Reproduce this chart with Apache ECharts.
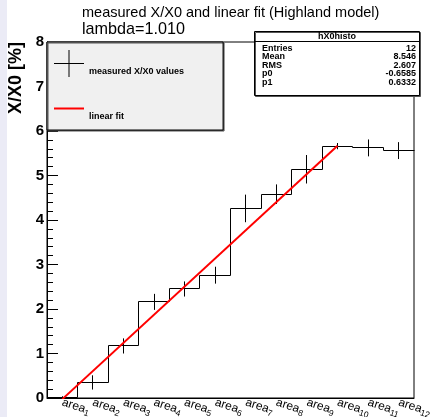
<!DOCTYPE html>
<html>
<head>
<meta charset="utf-8">
<script src="https://cdn.jsdelivr.net/npm/echarts@6/dist/echarts.min.js"></script>
<style>
  html, body { margin: 0; padding: 0; background: #fff; }
  #chart { width: 434px; height: 417px; }
</style>
</head>
<body>
<div id="chart"></div>
<script>
// bins of the histogram
const areaNames = ['area1', 'area2', 'area3', 'area4', 'area5', 'area6',
                   'area7', 'area8', 'area9', 'area10', 'area11', 'area12'];
const x0Values = [0.02, 0.35, 1.17, 2.16, 2.45, 2.76, 4.26, 4.58, 5.14, 5.66, 5.62, 5.56];
const x0Errors = [0.02, 0.16, 0.17, 0.18, 0.17, 0.19, 0.31, 0.22, 0.32, 0.07, 0.19, 0.19];

// fit line end points (area1 .. area10)
const fitAreas = ['area1', 'area10'];
const fitValues = [-0.025, 5.67];

// stats box
const statNames = ['Entries', 'Mean', 'RMS', 'p0', 'p1'];
const statValues = ['12', '8.546', '2.607', '-0.6585', '0.6332'];

const chart = echarts.init(document.getElementById('chart'));

const black = '#000';
const snap = (v) => Math.round(v - 0.5) + 0.5;

function renderHisto(params, api) {
  const i = params.dataIndex;
  const v = api.value(1);
  const e = api.value(2);
  const c = api.coord([i, v]);
  const w = api.size([1, 0])[0];
  const xl = snap(c[0] - w / 2), xr = snap(c[0] + w / 2), xc = snap(c[0]);
  const y = snap(c[1]);
  const st = { stroke: black, lineWidth: 1 };
  const kids = [
    { type: 'line', shape: { x1: xl, y1: y, x2: xr, y2: y }, style: st }
  ];
  if (i < x0Values.length - 1) {
    const yn = snap(api.coord([i + 1, x0Values[i + 1]])[1]);
    kids.push({ type: 'line', shape: { x1: xr, y1: y, x2: xr, y2: yn }, style: st });
  }
  const yt = api.coord([i, v + e])[1];
  const yb = api.coord([i, v - e])[1];
  kids.push({ type: 'line', shape: { x1: xc, y1: yt, x2: xc, y2: yb }, style: st });
  return { type: 'group', children: kids };
}

const statRows = [];
statNames.forEach((n, k) => {
  const y = 17.5 + k * 8.5;
  statRows.push({ type: 'text', x: 8, y: y,
    style: { text: n, font: 'bold 9px Liberation Sans', fill: black, textVerticalAlign: 'middle' } });
  statRows.push({ type: 'text', x: 162, y: y,
    style: { text: statValues[k], font: 'bold 9px Liberation Sans', fill: black,
             textAlign: 'right', textVerticalAlign: 'middle' } });
});

const option = {
  animation: false,
  backgroundColor: '#fff',
  textStyle: { fontFamily: 'Liberation Sans' },
  title: {
    text: 'measured X/X0 and linear fit (Highland model)',
    subtext: 'lambda=1.010',
    left: 82, top: 5, padding: 0, itemGap: 2,
    textStyle: { fontSize: 14.5, fontWeight: 'normal', color: black },
    subtextStyle: { fontSize: 16.2, color: black }
  },
  grid: {
    left: 47, right: 20, top: 42, bottom: 19,
    outerBoundsMode: 'none',
    show: true, borderColor: black, borderWidth: 1, backgroundColor: 'transparent'
  },
  legend: {
    orient: 'vertical', left: 47, top: 42,
    backgroundColor: '#f0f0f0', borderColor: black, borderWidth: 1,
    shadowColor: '#555', shadowOffsetX: 1, shadowOffsetY: 1, shadowBlur: 0,
    padding: [8, 39, 8, 7],
    itemWidth: 30, itemHeight: 27, itemGap: 18,
    selectedMode: false,
    formatter: (name) => '{t|' + name + '}',
    textStyle: {
      color: black,
      rich: { t: { fontSize: 9, fontWeight: 'bold', color: black, padding: [16, 0, 0, 0] } }
    },
    data: [
      { name: 'measured X/X0 values',
        icon: 'path://M0,13L30,13L30,14L0,14ZM14.5,0L15.5,0L15.5,27L14.5,27Z' },
      { name: 'linear fit',
        icon: 'path://M0,12.5L30,12.5L30,14.5L0,14.5ZM15,0L15,0L15,0ZM15,27L15,27L15,27Z' }
    ]
  },
  xAxis: {
    type: 'category',
    data: areaNames,
    boundaryGap: true,
    axisLine: { lineStyle: { color: black, width: 1 } },
    axisTick: { alignWithLabel: true, inside: true, length: 10, lineStyle: { color: black } },
    splitLine: { show: false },
    axisLabel: {
      interval: 0, rotate: -18, margin: 4, color: black,
      formatter: (v) => '{a|area}{s|' + v.replace('area', '') + '}',
      rich: {
        a: { fontSize: 12, color: black },
        s: { fontSize: 8.5, color: black, padding: [7, 0, 0, 0] }
      }
    }
  },
  yAxis: {
    type: 'value', min: 0, max: 8, interval: 1,
    axisLine: { show: true, lineStyle: { color: black, width: 1 } },
    axisTick: { show: true, inside: true, length: 11, lineStyle: { color: black } },
    minorTick: { show: true, splitNumber: 5, length: 6, lineStyle: { color: black } },
    splitLine: { show: false },
    axisLabel: { fontSize: 15, fontWeight: 'bold', color: black, margin: 3 }
  },
  graphic: [
    { type: 'rect', shape: { x: 0, y: 0, width: 7, height: 417 }, style: { fill: '#ebebf6' }, silent: true },
    { type: 'text', x: 16, y: 42, rotation: Math.PI / 2,
      style: { text: 'X/X0 [%]', font: 'bold 18px Liberation Sans', fill: black,
               textAlign: 'right', textVerticalAlign: 'middle' } },
    { type: 'group', x: 254, y: 31, children: [
        { type: 'rect', shape: { x: 0.5, y: 0.5, width: 165, height: 64 },
          style: { fill: '#fff', stroke: black, lineWidth: 1,
                   shadowColor: '#555', shadowOffsetX: 1, shadowOffsetY: 1, shadowBlur: 0 } },
        { type: 'text', x: 83, y: 5.5,
          style: { text: 'hX0histo', font: 'bold 9px Liberation Sans', fill: black,
                   textAlign: 'center', textVerticalAlign: 'middle' } },
        { type: 'line', shape: { x1: 0.5, y1: 10.5, x2: 165.5, y2: 10.5 },
          style: { stroke: black, lineWidth: 1 } }
      ].concat(statRows) }
  ],
  series: [
    {
      name: 'measured X/X0 values',
      type: 'custom',
      renderItem: renderHisto,
      itemStyle: { color: black },
      encode: { x: 0, y: 1 },
      data: x0Values.map((v, i) => [i, v, x0Errors[i]]),
      z: 3
    },
    {
      name: 'linear fit',
      type: 'line',
      symbol: 'none',
      color: '#ff0000',
      lineStyle: { color: '#ff0000', width: 2 },
      data: fitAreas.map((a, k) => [a, fitValues[k]]),
      clip: true,
      z: 4
    }
  ]
};

chart.setOption(option);
</script>
</body>
</html>
